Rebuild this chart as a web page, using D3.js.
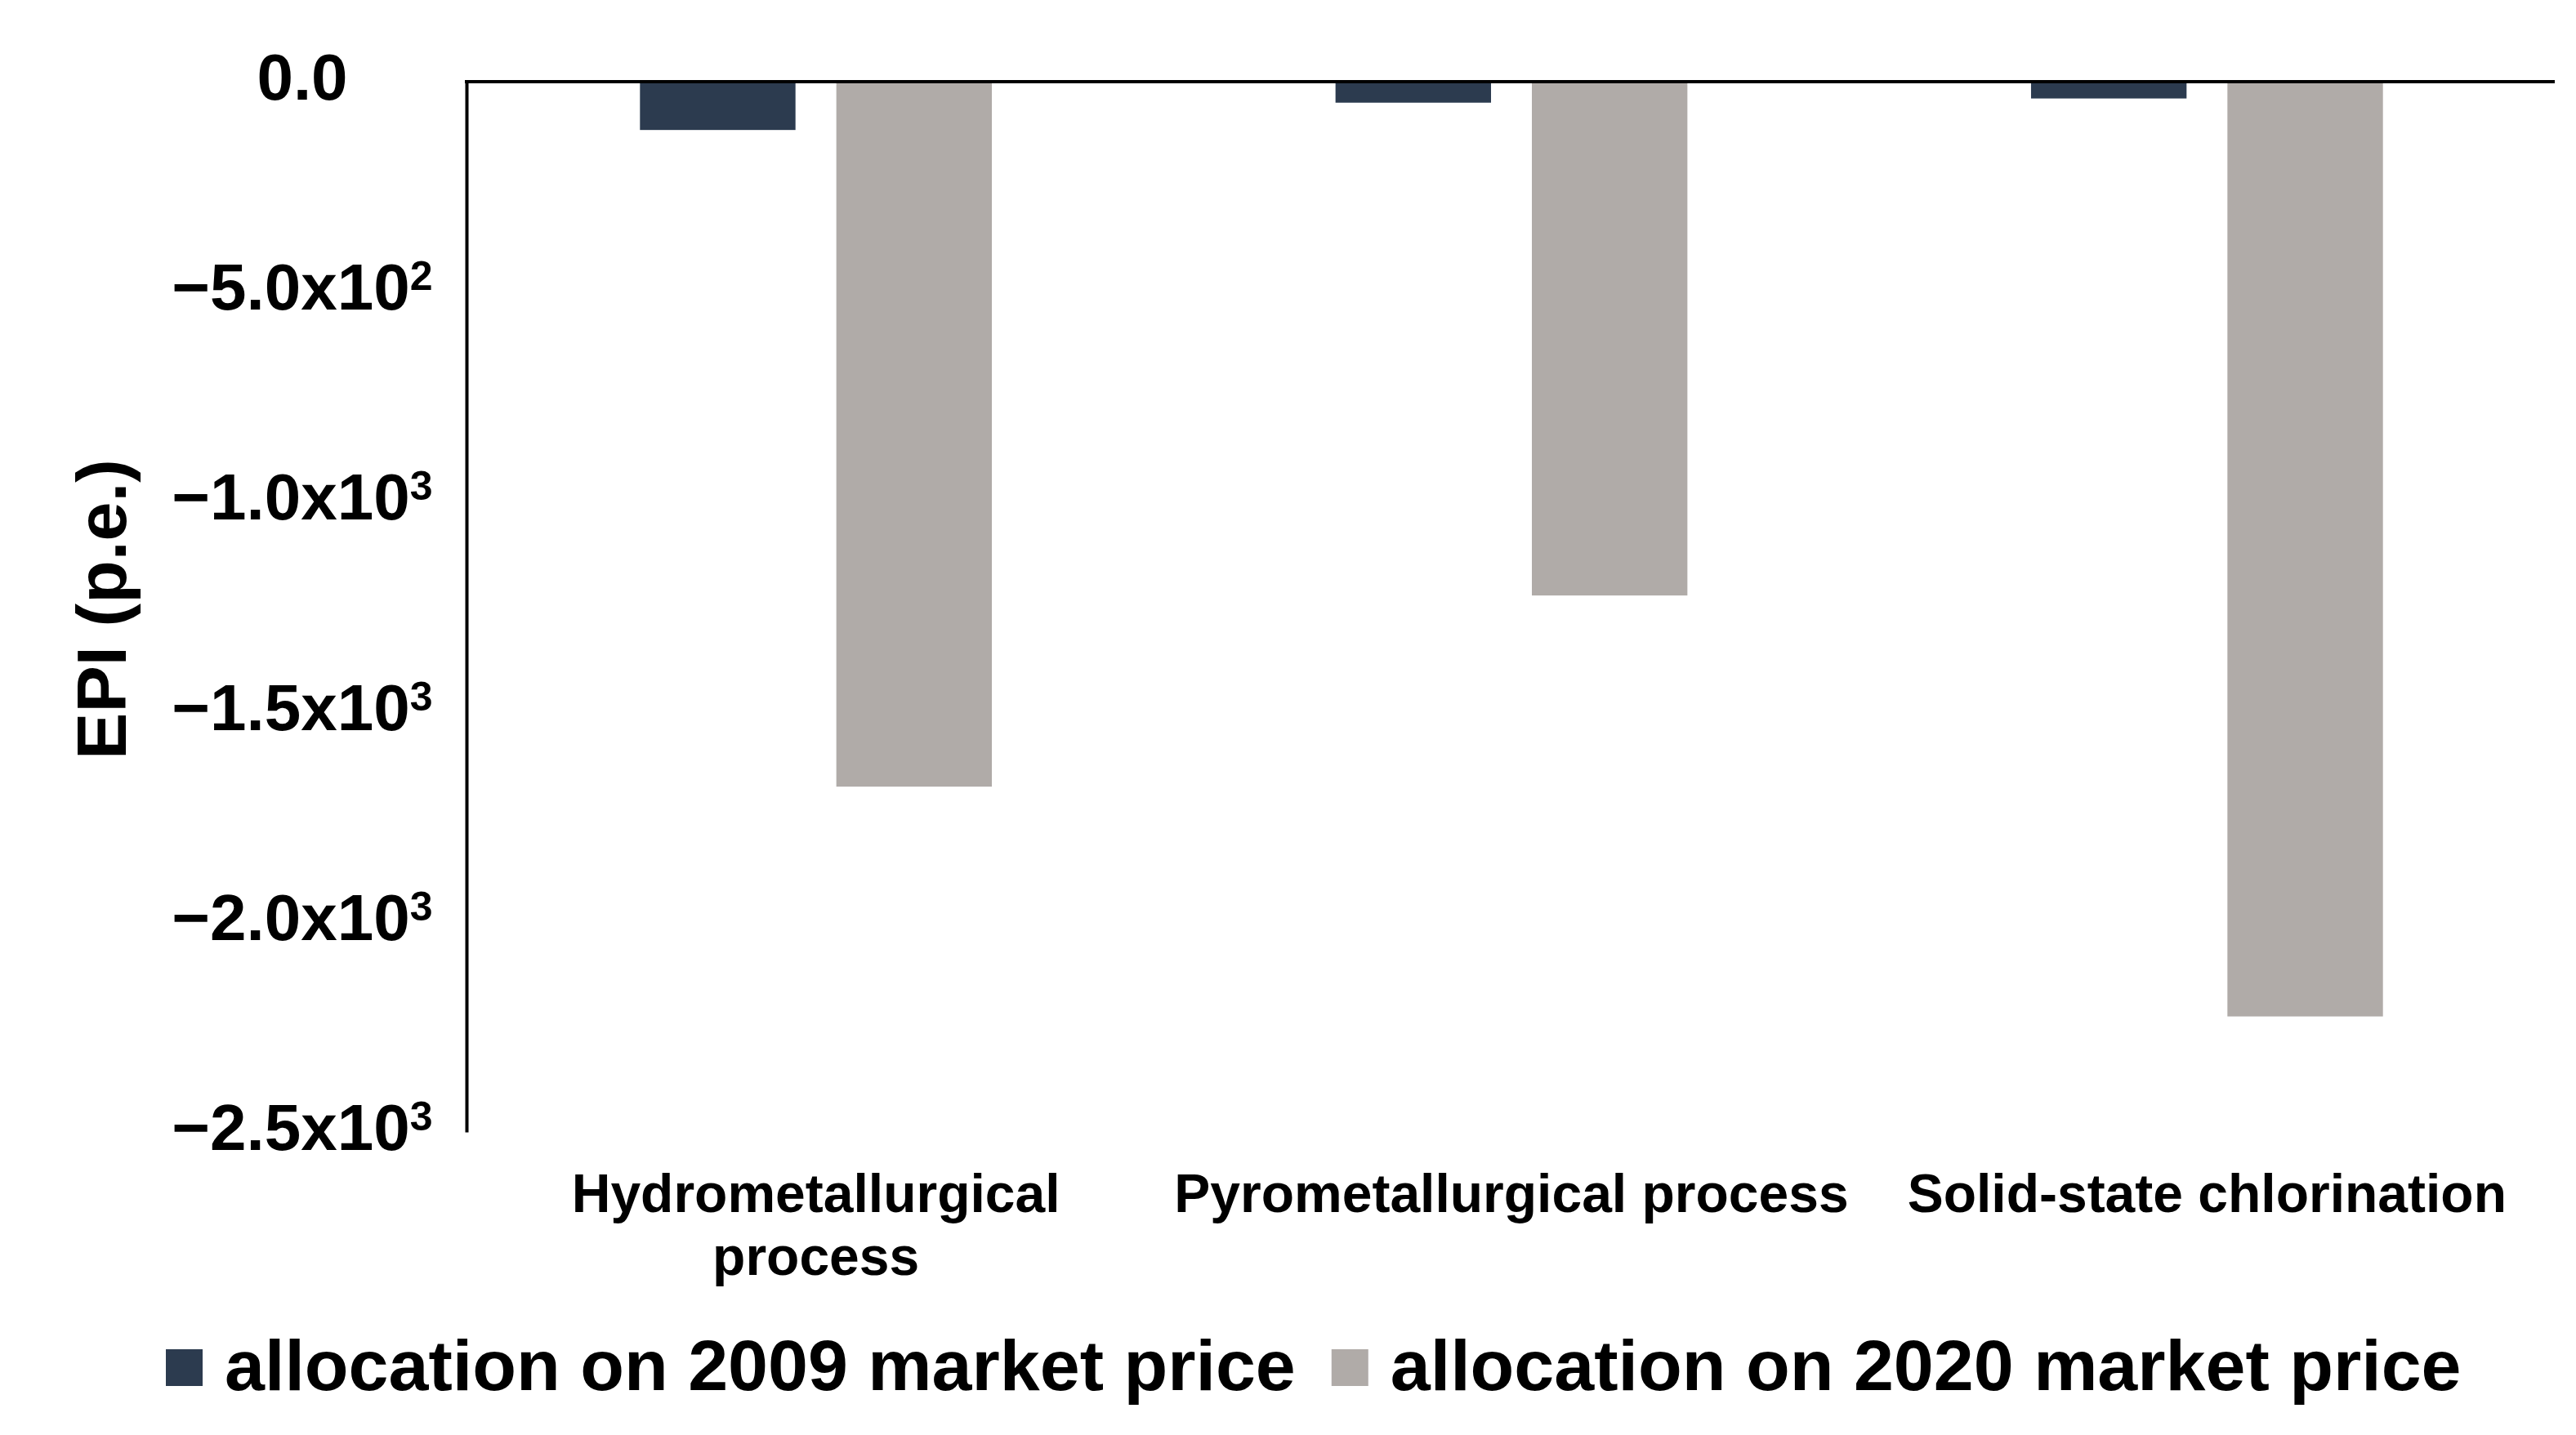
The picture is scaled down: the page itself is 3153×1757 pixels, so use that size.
<!DOCTYPE html>
<html>
<head>
<meta charset="utf-8">
<script src="https://cdn.jsdelivr.net/npm/d3@7"></script>
<style>
  body { margin: 0; background: #fff; }
  text { font-family: "Liberation Sans", Arial, sans-serif; font-weight: bold; fill: #000; }
</style>
</head>
<body>
<div id="chart"></div>
<script>
// data
const categories = ['Hydrometallurgical process', 'Pyrometallurgical process', 'Solid-state chlorination'];
const categoryLines = [['Hydrometallurgical', 'process'], ['Pyrometallurgical process'], ['Solid-state chlorination']];
const seriesNames = ['allocation on 2009 market price', 'allocation on 2020 market price'];
const values2009 = [-115, -50, -40];
const values2020 = [-1678, -1223, -2225];
const seriesColors = ['#2c3b4f', '#b0aba8'];

const yTicks = [0, -500, -1000, -1500, -2000, -2500];
const yTickMantissa = ['0.0', '\u22125.0x10', '\u22121.0x10', '\u22121.5x10', '\u22122.0x10', '\u22122.5x10'];
const yTickExponent = ['', '2', '3', '3', '3', '3'];

const width = 3153;
const height = 1757;
const plot = { left: 571, right: 3127, top: 100, bottom: 1386 };

const svg = d3.select('#chart')
    .append('svg')
    .attr('width', width)
    .attr('height', height);

svg.append('rect')
    .attr('width', width)
    .attr('height', height)
    .attr('fill', '#fff');

const y = d3.scaleLinear()
    .domain([-2500, 0])
    .range([plot.bottom, plot.top]);

const x = d3.scaleBand()
    .domain(categories)
    .range([plot.left + 2, plot.right])
    .padding(0);

const xInner = d3.scaleBand()
    .domain(seriesNames)
    .range([0, x.bandwidth()])
    .paddingInner(0.208)
    .paddingOuter(0.875);

const rows = categories.map((c, i) => ({
    category: c,
    vals: [values2009[i], values2020[i]]
}));

// bars
const groups = svg.append('g')
    .selectAll('g')
    .data(rows)
    .enter()
    .append('g')
    .attr('transform', d => `translate(${x(d.category)},0)`);

groups.selectAll('rect')
    .data(d => d.vals.map((v, j) => ({ series: seriesNames[j], value: v, color: seriesColors[j] })))
    .enter()
    .append('rect')
    .attr('x', d => xInner(d.series))
    .attr('width', xInner.bandwidth())
    .attr('y', d => y(0))
    .attr('height', d => y(d.value) - y(0))
    .attr('fill', d => d.color);

// y axis
const yAxis = svg.append('g')
    .attr('transform', `translate(${plot.left},0)`)
    .call(d3.axisLeft(y).tickValues(yTicks).tickSize(0).tickSizeOuter(0).tickFormat(''));

yAxis.select('.domain')
    .attr('stroke', '#000')
    .attr('stroke-width', 4);

yAxis.selectAll('.tick text').remove();

const tickLabels = svg.append('g')
    .selectAll('text')
    .data(yTicks)
    .enter()
    .append('text')
    .attr('x', 370)
    .attr('y', d => y(d) + 22)
    .attr('text-anchor', 'middle')
    .attr('font-size', 80);

tickLabels.append('tspan')
    .text((d, i) => yTickMantissa[i]);

tickLabels.append('tspan')
    .attr('font-size', 50)
    .attr('dy', -24)
    .text((d, i) => yTickExponent[i]);

// zero line across the top
svg.append('line')
    .attr('x1', plot.left - 2)
    .attr('x2', plot.right)
    .attr('y1', y(0))
    .attr('y2', y(0))
    .attr('stroke', '#000')
    .attr('stroke-width', 4);

// y title
svg.append('text')
    .attr('transform', `translate(154,746) rotate(-90)`)
    .attr('text-anchor', 'middle')
    .attr('font-size', 86)
    .text('EPI (p.e.)');

// category labels
const catLabels = svg.append('g')
    .selectAll('text')
    .data(categories)
    .enter()
    .append('text')
    .attr('text-anchor', 'middle')
    .attr('font-size', 66)
    .attr('x', d => x(d) + x.bandwidth() / 2)
    .attr('y', 1484);

catLabels.each(function(d, i) {
    const t = d3.select(this);
    categoryLines[i].forEach((line, k) => {
        t.append('tspan')
            .attr('x', x(d) + x.bandwidth() / 2)
            .attr('dy', k === 0 ? 0 : 77)
            .text(line);
    });
});

// legend
const legend = svg.append('g');
let lx = 203;
seriesNames.forEach((name, i) => {
    legend.append('rect')
        .attr('x', lx)
        .attr('y', 1652)
        .attr('width', 45)
        .attr('height', 45)
        .attr('fill', seriesColors[i]);
    const t = legend.append('text')
        .attr('x', lx + 72)
        .attr('y', 1702)
        .attr('font-size', 88)
        .text(name);
    lx += 72 + t.node().getComputedTextLength() + 44;
});
</script>
</body>
</html>
